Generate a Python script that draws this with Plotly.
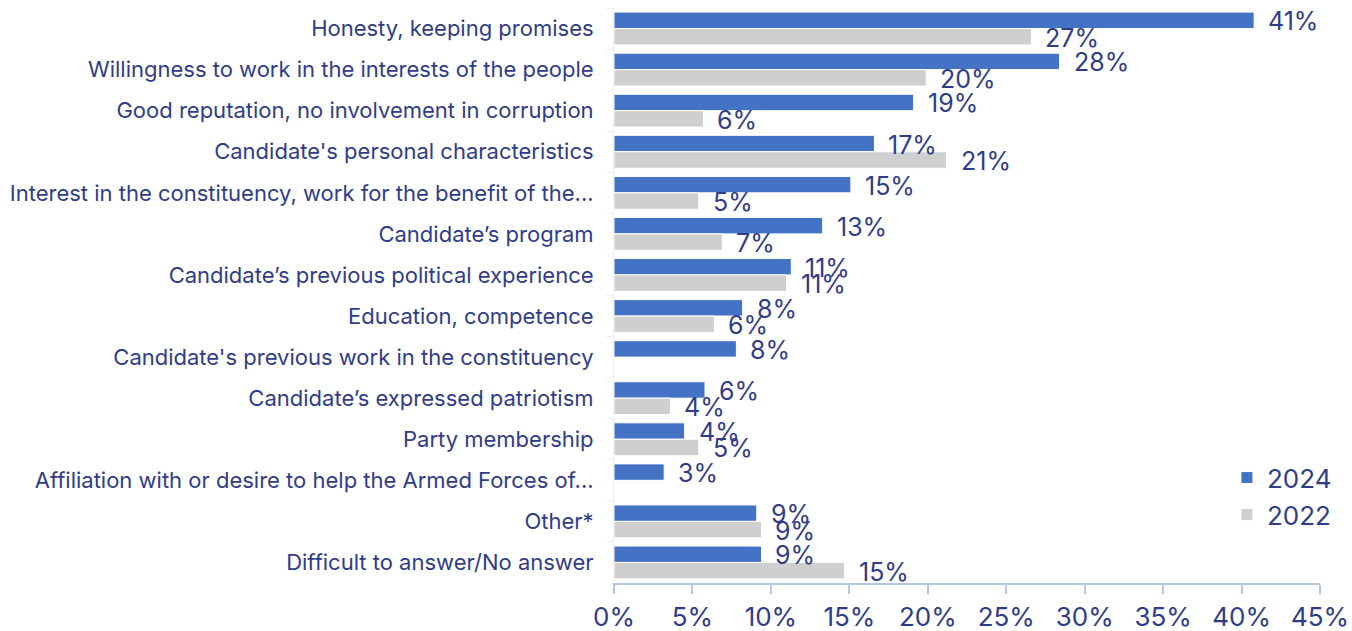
import plotly.graph_objects as go

categories = [
    "Honesty, keeping promises",
    "Willingness to work in the interests of the people",
    "Good reputation, no involvement in corruption",
    "Candidate's personal characteristics",
    "Interest in the constituency, work for the benefit of the...",
    "Candidate’s program",
    "Candidate’s previous political experience",
    "Education, competence",
    "Candidate's previous work in the constituency",
    "Candidate’s expressed patriotism",
    "Party membership",
    "Affiliation with or desire to help the Armed Forces of...",
    "Other*",
    "Difficult to answer/No answer",
]
values_2024 = [40.8, 28.4, 19.1, 16.6, 15.1, 13.3, 11.3, 8.2, 7.8, 5.8, 4.5, 3.2, 9.1, 9.4]
values_2022 = [26.6, 19.9, 5.7, 21.2, 5.4, 6.9, 11.0, 6.4, None, 3.6, 5.4, None, 9.4, 14.7]
series_names = ["2024", "2022"]
x_ticks = [0, 5, 10, 15, 20, 25, 30, 35, 40, 45]

BLUE = "#4472C4"
GRAY = "#D0CFCF"
TEXT = "#2F3C8C"
FONT = "Inter, 'Noto Sans', sans-serif"

fig = go.Figure()
for name, vals, color in [(series_names[0], values_2024, BLUE), (series_names[1], values_2022, GRAY)]:
    fig.add_trace(go.Bar(
        y=categories, x=vals, name=name, orientation="h",
        marker=dict(color=color, line=dict(color="white", width=1)),
        hoverinfo="x+y",
    ))

# value labels placed just right of each bar end
annotations = []
for offset, vals in [(-0.2, values_2024), (0.2, values_2022)]:
    for i, v in enumerate(vals):
        if v is None:
            continue
        annotations.append(dict(
            x=v, y=i + offset, xref="x", yref="y",
            text=f"{round(v):.0f}%", showarrow=False,
            xanchor="left", yanchor="middle", xshift=12, yshift=-1,
            font=dict(family=FONT, size=25, color=TEXT),
        ))

fig.update_layout(
    width=1352, height=631,
    margin=dict(l=614, r=32, t=8, b=48),
    paper_bgcolor="white", plot_bgcolor="white",
    barmode="group", bargap=0.2, bargroupgap=0.0,
    font=dict(family=FONT, size=22, color=TEXT),
    annotations=annotations,
    legend=dict(
        x=1.024, y=0.151, xanchor="right", yanchor="middle",
        font=dict(family=FONT, size=26, color=TEXT),
        itemwidth=30, traceorder="normal",
        bgcolor="rgba(0,0,0,0)",
    ),
    showlegend=True,
)
fig.update_xaxes(
    range=[0, 45], tickvals=x_ticks, ticktext=[f"{t}%" for t in x_ticks],
    showgrid=False, zeroline=False, automargin=False,
    showline=True, linecolor="#B4C7E7", linewidth=2,
    ticks="outside", tickcolor="#B4C7E7", ticklen=9, tickwidth=2,
    ticklabelstandoff=1,
    tickfont=dict(family=FONT, size=26, color=TEXT),
)
fig.update_yaxes(
    range=[len(categories) - 0.5, -0.5], autorange=False,
    showgrid=False, zeroline=False, automargin=False,
    showline=True, linecolor="#EFEFEF", linewidth=1,
    ticks="outside", tickson="boundaries", tickcolor="#EFEFEF", ticklen=7,
    ticklabelstandoff=15,
    tickfont=dict(family=FONT, size=22, color=TEXT),
)

fig.write_html("out.html")
